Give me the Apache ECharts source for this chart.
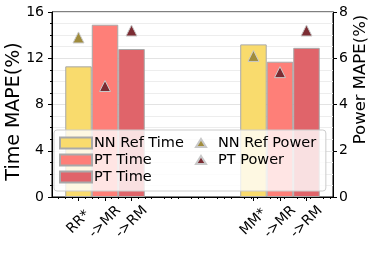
<!DOCTYPE html>
<html>
<head>
<meta charset="utf-8">
<script src="https://cdn.jsdelivr.net/npm/echarts@6/dist/echarts.min.js"></script>
<style>
html,body{margin:0;padding:0;background:#fff;}
#chart{width:374px;height:253px;}
</style>
</head>
<body>
<div id="chart"></div>
<script>
// Category labels and their x positions (bar centers)
const categories = ['RR*', '->MR', '->RM', 'MM*', '->MR', '->RM'];
const xPositions = [0, 1, 2, 6.6, 7.6, 8.6];

// Time MAPE (%) – left axis
const nnRefTime = [11.3, null, null, 13.2, null, null];
const ptTime    = [null, 14.9, null, null, 11.7, null];
const ptTime2   = [null, null, 12.8, null, null, 12.9];

// Power MAPE (%) – right axis
const nnRefPower = [6.9, null, null, 6.1, null, null];
const ptPower    = [null, 4.8, 7.2, null, 5.4, 7.2];

// Axis ticks
const timeTicks = [0, 4, 8, 12, 16];
const powerTicks = [0, 2, 4, 6, 8];

const seriesNames = ['NN Ref Time', 'PT Time', 'PT Time 2', 'NN Ref Power', 'PT Power'];
const displayNames = {'NN Ref Time': 'NN Ref Time', 'PT Time': 'PT Time', 'PT Time 2': 'PT Time', 'NN Ref Power': 'NN Ref Power', 'PT Power': 'PT Power'};

// x range and a fine slot grid (for placing bars on a category scale)
const X_MIN = -1, X_MAX = 9.6, SLOT = 0.2;
const nSlots = Math.round((X_MAX - X_MIN) / SLOT) + 1;
const slotCats = Array.from({length: nSlots}, (_, i) => String(i));
const slotOf = (x) => Math.round((x - X_MIN) / SLOT);

function toPairs(arr) {
  const out = [];
  arr.forEach((v, i) => { if (v !== null) out.push([xPositions[i], v]); });
  return out;
}
function toSlots(arr) {
  const out = [];
  arr.forEach((v, i) => { if (v !== null) out.push([String(slotOf(xPositions[i])), v]); });
  return out;
}
function labelFor(value) {
  for (let i = 0; i < xPositions.length; i++) {
    if (Math.abs(xPositions[i] - value) < 1e-6) return categories[i];
  }
  return '';
}

const FONT = 'DejaVu Sans';
const chart = echarts.init(document.getElementById('chart'), null, {renderer: 'canvas'});

const barStyle = (color) => ({color: color, borderColor: '#a9a9a9', borderWidth: 1});

const option = {
  animation: false,
  textStyle: {fontFamily: FONT},
  grid: {left: 52, right: 41, top: 12, bottom: 56, containLabel: false, outerBoundsMode: 'none', show: true, borderColor: '#000', borderWidth: 1, backgroundColor: 'transparent'},
  legend: [
    {
      data: seriesNames.slice(0, 3),
      orient: 'vertical',
      left: 54, top: 130,
      padding: [5, 142, 6, 5],
      itemWidth: 32, itemHeight: 11, itemGap: 1,
      icon: 'rect',
      backgroundColor: 'rgba(255,255,255,0.8)',
      borderColor: '#cccccc', borderWidth: 1, borderRadius: 3,
      formatter: (n) => displayNames[n],
      textStyle: {fontFamily: FONT, fontSize: 14.5, color: '#000', lineHeight: 16, padding: [0, 0, 0, -3]}
    },
    {
      data: seriesNames.slice(3),
      orient: 'vertical',
      left: 195, top: 130,
      padding: [5, 5, 5, 0],
      itemWidth: 10, itemHeight: 8, itemGap: 1,
      z: 10,
      formatter: (n) => displayNames[n],
      textStyle: {fontFamily: FONT, fontSize: 14.5, color: '#000', lineHeight: 16, padding: [0, 0, 0, 7]}
    }
  ],
  xAxis: [
    {
      type: 'value', min: X_MIN, max: X_MAX, interval: 1, position: 'bottom',
      axisLine: {show: true, onZero: false, lineStyle: {color: '#000', width: 1}},
      axisTick: {show: true, customValues: xPositions, length: 4, lineStyle: {color: '#000'}},
      minorTick: {show: true, splitNumber: 4, length: 2, lineStyle: {color: '#000'}},
      axisLabel: {
        show: true, customValues: xPositions, formatter: (v) => labelFor(v),
        rotate: 45, align: 'center', verticalAlign: 'middle', margin: 25,
        fontFamily: FONT, fontSize: 14, color: '#000'
      },
      splitLine: {show: false},
      minorSplitLine: {show: false}
    },
    {
      type: 'category', data: slotCats, boundaryGap: false, position: 'bottom',
      axisLine: {show: false, onZero: false},
      axisTick: {show: false},
      axisLabel: {show: false},
      splitLine: {show: false}
    }
  ],
  yAxis: [
    {
      type: 'value', min: timeTicks[0], max: timeTicks[timeTicks.length - 1], interval: timeTicks[1] - timeTicks[0],
      position: 'left',
      name: 'Time MAPE(%)', nameLocation: 'middle', nameGap: 28, nameMoveOverlap: false,
      nameTextStyle: {fontFamily: FONT, fontSize: 19, color: '#000', padding: [0, 14, 0, 0]},
      axisLine: {show: true, onZero: false, lineStyle: {color: '#000'}},
      axisTick: {show: true, length: 4, lineStyle: {color: '#000'}},
      minorTick: {show: true, splitNumber: 4, length: 2, lineStyle: {color: '#000'}},
      splitLine: {show: true, lineStyle: {color: '#e3e3e3'}},
      minorSplitLine: {show: true, lineStyle: {color: '#ededed'}},
      axisLabel: {fontFamily: FONT, fontSize: 14, color: '#000', margin: 8}
    },
    {
      type: 'value', min: powerTicks[0], max: powerTicks[powerTicks.length - 1], interval: powerTicks[1] - powerTicks[0],
      position: 'right',
      name: 'Power MAPE(%)', nameLocation: 'middle', nameGap: 19, nameMoveOverlap: false,
      nameTextStyle: {fontFamily: FONT, fontSize: 16.5, color: '#000', padding: [0, 0, 0, 50]},
      axisLine: {show: true, onZero: false, lineStyle: {color: '#000'}},
      axisTick: {show: true, length: 4, lineStyle: {color: '#000'}},
      splitLine: {show: false},
      axisLabel: {fontFamily: FONT, fontSize: 14, color: '#000', margin: 6}
    }
  ],
  series: [
    {name: seriesNames[0], type: 'bar', xAxisIndex: 1, yAxisIndex: 0, barWidth: 26.5, barGap: '-100%', data: toSlots(nnRefTime), itemStyle: barStyle('#f9db6d')},
    {name: seriesNames[1], type: 'bar', xAxisIndex: 1, yAxisIndex: 0, barWidth: 26.5, barGap: '-100%', data: toSlots(ptTime), itemStyle: barStyle('#fe7f78')},
    {name: seriesNames[2], type: 'bar', xAxisIndex: 1, yAxisIndex: 0, barWidth: 26.5, barGap: '-100%', data: toSlots(ptTime2), itemStyle: barStyle('#e0646a')},
    {name: seriesNames[3], type: 'scatter', xAxisIndex: 0, yAxisIndex: 1, symbol: 'triangle', symbolSize: 11, z: 5, data: toPairs(nnRefPower), itemStyle: {color: '#a08c3c', borderColor: '#c8c8c8', borderWidth: 1, opacity: 1}},
    {name: seriesNames[4], type: 'scatter', xAxisIndex: 0, yAxisIndex: 1, symbol: 'triangle', symbolSize: 11, z: 5, data: toPairs(ptPower), itemStyle: {color: '#7b2c33', borderColor: '#c8c8c8', borderWidth: 1, opacity: 1}}
  ]
};
chart.setOption(option);
</script>
</body>
</html>
